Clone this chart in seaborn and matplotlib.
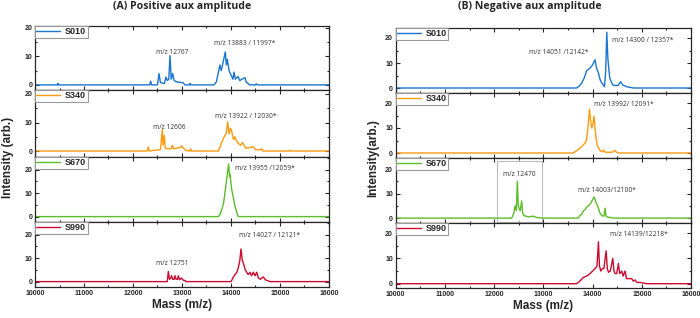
import matplotlib
matplotlib.use("Agg")
import matplotlib.pyplot as plt
import pandas as pd
import seaborn as sns
from matplotlib.patches import Rectangle
from matplotlib.ticker import MultipleLocator

# sample names and colours
samples = ["S010", "S340", "S670", "S990"]
colors = ["#1a75cf", "#ff9a0e", "#5cbd2a", "#cc0a2f"]

# (A) positive aux amplitude spectra, (mass, intensity)
pos_s010 = [(10000, 0), (10460, 0), (10470, 0.5), (10480, 0), (12340, 0), (12361, 1.3), (12380, 0),
            (12500, 0), (12531, 4), (12560, 0.8), (12640, 0.5), (12673, 2.8), (12700, 1.5), (12730, 2),
            (12755, 10.3), (12780, 2), (12810, 4), (12840, 1.5), (12900, 1), (13020, 0.8), (13060, 0),
            (13150, 0), (13163, 0.5), (13175, 0), (13650, 0), (13700, 1), (13775, 7), (13800, 5),
            (13840, 8), (13884, 11.6), (13905, 7), (13925, 9), (13960, 5), (14014, 3), (14040, 2),
            (14061, 4.5), (14090, 2), (14143, 3), (14180, 1.5), (14220, 2), (14286, 2.5), (14310, 1),
            (14347, 0.5), (14380, 0), (14500, 0), (14514, 0.4), (14530, 0), (16000, 0)]
pos_s340 = [(10000, 0), (12290, 0), (12312, 1.4), (12330, 0), (12560, 0.5), (12598, 7.5), (12615, 2),
            (12639, 5.5), (12660, 1), (12700, 0.8), (12780, 0.8), (12803, 2), (12830, 0.8), (12900, 1),
            (12960, 1.2), (12993, 1.8), (13030, 1), (13070, 0.3), (13160, 0), (13176, 0.8), (13190, 0),
            (13741, 0), (13780, 1.5), (13810, 3), (13860, 5), (13900, 6), (13932, 10.2), (13960, 6),
            (13990, 8), (14014, 7), (14050, 4), (14080, 5), (14116, 3.5), (14160, 2.5), (14200, 2),
            (14230, 3), (14252, 2.5), (14300, 1), (14380, 1.2), (14456, 1.5), (14500, 0.5), (14600, 0.4),
            (14626, 0.8), (14650, 0), (15190, 0), (15204, 0.3), (15220, 0), (16000, 0)]
pos_s670 = [(10000, 0), (13741, 0), (13780, 1), (13810, 3), (13840, 5), (13864, 8), (13900, 14),
            (13930, 19), (13952, 22.4), (13970, 17), (13980, 18), (14010, 12), (14048, 8), (14075, 5),
            (14102, 3), (14130, 1), (14150, 0), (16000, 0)]
pos_s990 = [(10000, 0), (12700, 0), (12721, 4.3), (12745, 1), (12770, 1.5), (12789, 2.5), (12810, 1),
            (12840, 1), (12857, 2.5), (12880, 1), (12910, 1), (12925, 2.5), (12950, 0.8), (12993, 1.5),
            (13030, 0.5), (13061, 0.5), (13080, 0), (14000, 0), (14014, 0.5), (14050, 2), (14082, 3),
            (14120, 4), (14150, 6), (14180, 9), (14204, 13.9), (14230, 9), (14252, 8), (14290, 5),
            (14320, 4), (14350, 3), (14388, 4), (14420, 2.5), (14456, 4), (14490, 2.5), (14524, 4),
            (14560, 1.5), (14600, 1), (14660, 2), (14700, 0.8), (14796, 0), (16000, 0)]

# (B) negative aux amplitude spectra
neg_s010 = [(10000, 0), (13677, 0), (13730, 0.8), (13780, 2), (13830, 4), (13882, 7), (13920, 7.5),
            (13949, 8), (13990, 9), (14020, 10), (14051, 11.3), (14080, 8), (14119, 6), (14150, 3.5),
            (14187, 2), (14240, 0.5), (14265, 6), (14289, 22.3), (14310, 12), (14329, 8), (14350, 4),
            (14370, 3), (14410, 1.2), (14457, 1), (14520, 1), (14550, 2), (14572, 2.5), (14610, 1.2),
            (14695, 0.5), (14830, 0), (16000, 0)]
neg_s340 = [(10000, 0), (13610, 0), (13680, 1), (13746, 2), (13800, 3), (13848, 4), (13875, 5),
            (13895, 8), (13915, 12), (13936, 17.6), (13960, 13), (13984, 10), (14010, 12), (14031, 14.7),
            (14050, 10), (14071, 6), (14095, 3), (14119, 2), (14160, 0.8), (14200, 0.5), (14221, 1.2),
            (14260, 0.3), (14400, 0.3), (14458, 1), (14490, 0.3), (14526, 0), (16000, 0)]
neg_s670 = [(10000, 0), (12357, 0), (12400, 2), (12425, 5), (12450, 3), (12472, 15), (12490, 5),
            (12506, 4), (12530, 3), (12560, 7), (12580, 2), (12608, 1), (12700, 0.5), (12797, 0.8),
            (12850, 0.3), (13000, 0), (13712, 0), (13740, 1), (13780, 1.5), (13814, 3), (13850, 3.5),
            (13880, 4.5), (13915, 5), (13960, 6), (14000, 7.5), (14031, 8.6), (14060, 7), (14090, 5.5),
            (14119, 4), (14150, 2), (14187, 1), (14230, 0.8), (14255, 4), (14270, 1), (14289, 0.5),
            (14430, 0), (16000, 0)]
neg_s990 = [(10000, 0), (13677, 0), (13740, 1), (13814, 2.5), (13880, 3), (13949, 4), (14000, 5),
            (14051, 6), (14090, 7), (14119, 16.6), (14140, 7), (14167, 5), (14200, 6), (14230, 6),
            (14275, 13), (14300, 6), (14323, 4.5), (14360, 5), (14411, 10), (14435, 5), (14458, 4),
            (14490, 4), (14526, 8), (14550, 4), (14594, 5), (14620, 3), (14661, 5), (14690, 2),
            (14730, 2), (14796, 2), (14830, 1), (14864, 1.5), (14900, 0.5), (14966, 0.5), (15100, 0),
            (16000, 0)]

# peak labels: (mass, intensity, text)
pos_labels = [
    [(12790, 11.5, "m/z 12767"), (14286, 14.4, "m/z 13883 / 11997*")],
    [(12741, 8.4, "m/z 12606"), (14306, 12.2, "m/z 13922 / 12030*")],
    [(14694, 20.3, "m/z 13955 /12059*")],
    [(12810, 7.8, "m/z 12751"), (14782, 19.7, "m/z 14027 / 12121*")],
]
neg_labels = [
    [(13305, 14.2, "m/z 14051 /12142*"), (15020, 19.0, "m/z 14300 / 12357*")],
    [(14626, 19.6, "m/z 13992/ 12091*")],
    [(12506, 17.7, "m/z 12470"), (14301, 11.1, "m/z 14003/12100*")],
    [(14951, 19.5, "m/z 14139/12218*")],
]

sns.set_style("ticks")
plt.rcParams["font.family"] = ["Liberation Sans", "DejaVu Sans"]

fig = plt.figure(figsize=(7, 3.18), dpi=100)
H = 318.0


def panel(x0, x1, top, bottom, ylim, spectrum, name, color, labels, last):
    ax = fig.add_axes([x0 / 700, 1 - bottom / H, (x1 - x0) / 700, (bottom - top) / H])
    df = pd.DataFrame(spectrum, columns=["Mass", "Intensity"])
    sns.lineplot(data=df, x="Mass", y="Intensity", ax=ax, color=color, lw=1.0,
                 sort=False, estimator=None, label=name)
    ax.set_xlim(10000, 16000)
    ax.set_ylim(*ylim)
    ax.set_yticks([0, 10, 20])
    ax.xaxis.set_major_locator(MultipleLocator(1000))
    ax.xaxis.set_minor_locator(MultipleLocator(500))
    ax.yaxis.set_minor_locator(MultipleLocator(5))
    ax.tick_params(which="both", direction="in", top=True, right=True, width=0.8)
    ax.tick_params(which="major", length=3, labelsize=5, pad=2)
    ax.tick_params(which="minor", length=1.5)
    for lab in ax.get_xticklabels() + ax.get_yticklabels():
        lab.set_fontweight("bold")
    ax.set_xlabel("")
    ax.set_ylabel("")
    if not last:
        ax.tick_params(labelbottom=False)
    for s in ax.spines.values():
        s.set_linewidth(0.9)
    leg = ax.legend(loc="upper left", bbox_to_anchor=(0, 1), borderaxespad=0, fancybox=False,
                    prop={"weight": "bold", "size": 6.5}, handlelength=2.6, handletextpad=0.6,
                    borderpad=0.15, framealpha=1)
    leg.get_frame().set_edgecolor("#999999")
    leg.get_frame().set_linewidth(0.8)
    for x, y, t in labels:
        ax.text(x, y, t, ha="center", va="center", fontsize=4.8, color="#333333",
                family=["Open Sans", "DejaVu Sans"])
    return ax


pos = [pos_s010, pos_s340, pos_s670, pos_s990]
neg = [neg_s010, neg_s340, neg_s670, neg_s990]
left_tops = [26, 90, 157, 222, 287]
left_ylims = [(-1.8, 20.7), (-2.1, 21.4), (-2.3, 25.4), (-2.3, 25.4)]
right_tops = [28, 93, 158, 223, 288]
right_ylims = [(-2, 24), (-2, 24), (-2, 24.5), (-1.7, 24)]

for i in range(4):
    panel(35, 329, left_tops[i], left_tops[i + 1], left_ylims[i], pos[i], samples[i], colors[i],
          pos_labels[i], i == 3)
    ax = panel(395.7, 691, right_tops[i], right_tops[i + 1], right_ylims[i], neg[i], samples[i],
               colors[i], neg_labels[i], i == 3)
    if i == 2:
        ax.add_patch(Rectangle((12050, -1.4), 930, 24.5, fill=False, edgecolor="#bbbbbb", lw=0.8))

fig.text(182 / 700, 1 - 7 / H, "(A) Positive aux amplitude", ha="center", va="center",
         fontsize=7.6, fontweight="bold", family=["Open Sans", "DejaVu Sans"])
fig.text(530 / 700, 1 - 7 / H, "(B) Negative aux amplitude", ha="center", va="center",
         fontsize=7.6, fontweight="bold", family=["Open Sans", "DejaVu Sans"])
fig.text(182 / 700, 1 - 305 / H, "Mass (m/z)", ha="center", va="center", fontsize=8.5, fontweight="bold")
fig.text(543 / 700, 1 - 306 / H, "Mass (m/z)", ha="center", va="center", fontsize=8.5, fontweight="bold")
fig.text(8 / 700, 1 - 157 / H, "Intensity (arb.)", ha="center", va="center", rotation=90,
         fontsize=8.5, fontweight="bold")
fig.text(373 / 700, 1 - 158 / H, "Intensity(arb.)", ha="center", va="center", rotation=90,
         fontsize=8.5, fontweight="bold")

fig.savefig("out.png", dpi=100)
